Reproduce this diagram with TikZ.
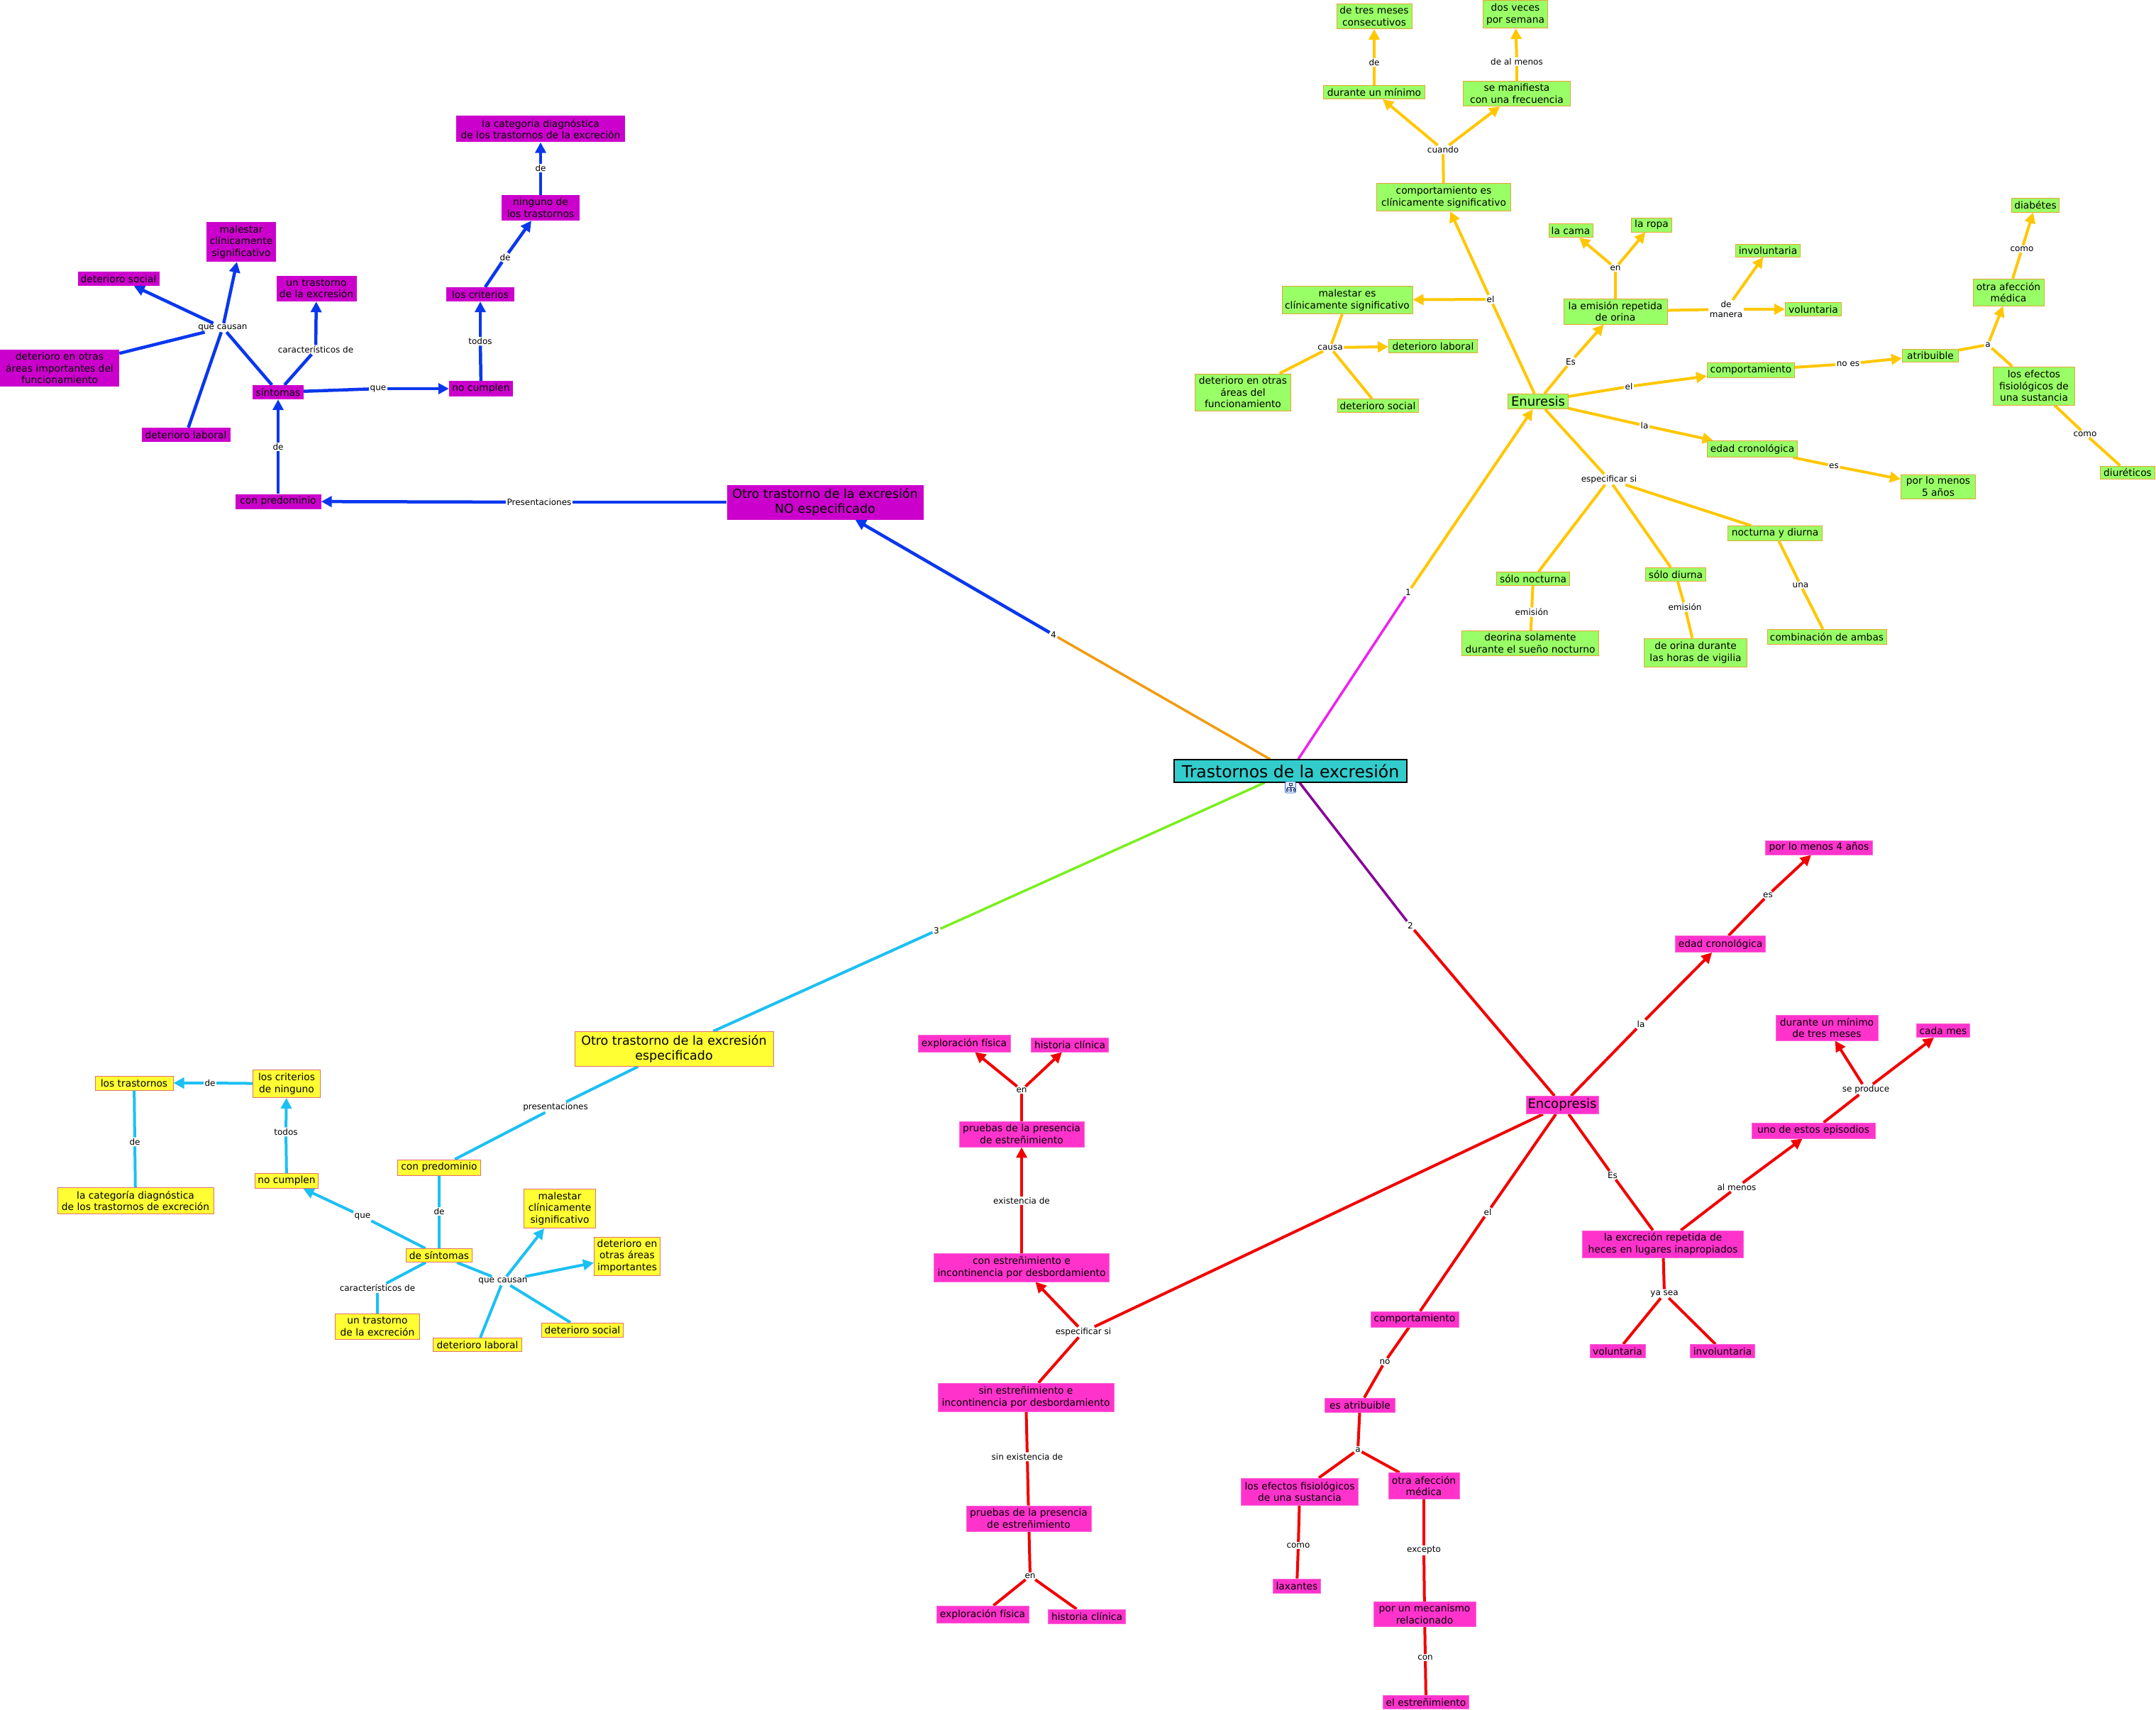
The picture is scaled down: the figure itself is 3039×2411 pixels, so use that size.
\documentclass[tikz,border=0pt]{standalone}
\usepackage{fontspec}
\setmainfont{DejaVu Sans}
\usetikzlibrary{arrows.meta}
\definecolor{teal1}{HTML}{33CCCC}
\definecolor{purp}{HTML}{CC00CC}
\definecolor{ylw}{HTML}{FFFF33}
\definecolor{ylwb}{HTML}{E07070}
\definecolor{grn}{HTML}{99FF66}
\definecolor{grnb}{HTML}{E6A532}
\definecolor{pnk}{HTML}{FF33CC}
\definecolor{gold}{HTML}{FFC700}
\definecolor{blu}{HTML}{0A37EE}
\definecolor{cyn}{HTML}{1CC0F2}
\definecolor{rd}{HTML}{F20000}
\definecolor{mag}{HTML}{EE22EE}
\definecolor{org}{HTML}{F29B11}
\definecolor{lim}{HTML}{7AEF1F}
\definecolor{prp}{HTML}{880099}
\pgfdeclarelayer{bg}
\pgfsetlayers{bg,main}
\newcommand\cnode[7]{\node[#1,minimum width=#5pt,minimum height=#6pt] (#2) at (#3,#4) {#7};}
\newcommand\lnode[4]{\node[lab] (#1) at (#2,#3) {#4};}
\tikzset{
  box/.style={rectangle, align=center, inner xsep=1.5pt, inner ysep=1pt, font=\fontsize{13.8}{16.5}\selectfont, text=black},
  gbox/.style={box, fill=grn, draw=grnb, line width=1pt},
  ybox/.style={box, fill=ylw, draw=ylwb, line width=1pt},
  pbox/.style={box, fill=purp},
  kbox/.style={box, fill=pnk, draw=pnk!75!white, line width=0.8pt},
  bigf/.style={font=\fontsize{17.5}{21}\selectfont},
  lab/.style={font=\fontsize{12}{13.5}\selectfont, inner sep=1.5pt, align=center, text=black},
  ln/.style={line width=4pt},
  gl/.style={ln, draw=gold},
  bl/.style={ln, draw=blu, line width=4.5pt},
  cl/.style={ln, draw=cyn},
  rl/.style={ln, draw=rd},
  ar/.style={-{Triangle[length=15pt,width=15pt]}}
}
\begin{document}
\begin{tikzpicture}[x=1pt,y=-1pt]
\path[use as bounding box] (0,0) rectangle (3039,2411);

% central
\node[box, fill=teal1, draw=black, line width=1.2pt, font=\fontsize{23.5}{26}\selectfont, minimum width=328pt, minimum height=32pt] (C) at (1819,1087) {Trastornos de la excresión};
\node[draw={rgb,255:red,60;green,110;blue,200}, fill={rgb,255:red,225;green,236;blue,250}, rounded corners=2pt, line width=0.8pt, minimum width=15pt, minimum height=16pt, inner sep=0pt] (icon) at (1819,1110) {};
\draw[line width=0.9pt, draw={rgb,255:red,30;green,50;blue,120}] (1817,1104) rectangle (1821,1107) (1819,1107) -- (1819,1110) (1814,1110) -- (1824,1110) (1814,1110) -- (1814,1112) (1824,1110) -- (1824,1112) (1819,1110) -- (1819,1112) (1813,1112) rectangle (1815,1115) (1818,1112) rectangle (1820,1115) (1823,1112) rectangle (1825,1115);

% ===== NO especificado branch (purple/blue)
\cnode{pbox}{bCat}{762}{182}{238}{37}{la categoría diagnóstica\\de los trastornos de la excreción}
\cnode{pbox}{bNin}{762}{293}{110}{36}{ninguno de\\los trastornos}
\cnode{pbox}{bCri}{677}{415}{96}{20}{los criterios}
\cnode{pbox}{bNoc}{678}{548}{90}{22}{no cumplen}
\cnode{pbox}{bSin}{392}{553}{72}{20}{síntomas}
\cnode{pbox}{bCon}{392}{707}{121}{21}{con predominio}
\cnode{pbox}{bUnt}{446}{407}{113}{36}{un trastorno\\de la excresión}
\cnode{pbox}{bMal}{340}{341}{98}{56}{malestar\\clínicamente\\significativo}
\cnode{pbox}{bDso}{167}{393}{115}{20}{deterioro social}
\cnode{pbox}{bDot}{84}{519}{168}{52}{deterioro en otras\\áreas importantes del\\funcionamiento}
\cnode{pbox}{bDla}{262}{613}{125}{20}{deterioro laboral}
\cnode{pbox,bigf}{bNOE}{1163}{708}{277}{49}{Otro trastorno de la excresión\\NO especificado}
\lnode{lb1}{762}{237}{de}
\lnode{lb2}{712}{363}{de}
\lnode{lb3}{677}{481}{todos}
\lnode{lb4}{533}{548}{que}
\lnode{lb5}{445}{493}{característicos de}
\lnode{lb6}{314}{462}{que causan}
\lnode{lb7}{392}{630}{de}
\lnode{lb8}{760}{708}{Presentaciones}
\lnode{l4}{1485}{895}{4}

% ===== especificado branch (yellow/cyan)
\cnode{ybox,bigf}{cOE}{950}{1479}{280}{49}{Otro trastorno de la excresión\\especificado}
\cnode{ybox}{cTra}{189}{1527}{110}{20}{los trastornos}
\cnode{ybox}{cCri}{404}{1528}{95}{39}{los criterios\\de ninguno}
\cnode{ybox}{cCat}{191}{1693}{220}{37}{la categoría diagnóstica\\de los trastornos de excreción}
\cnode{ybox}{cNoc}{404}{1665}{89}{21}{no cumplen}
\cnode{ybox}{cCon}{619}{1646}{117}{22}{con predominio}
\cnode{ybox}{cSin}{619}{1770}{93}{19}{de síntomas}
\cnode{ybox}{cMal}{789}{1704}{101}{55}{malestar\\clínicamente\\significativo}
\cnode{ybox}{cDot}{884}{1771}{93}{54}{deterioro en\\otras áreas\\importantes}
\cnode{ybox}{cUnt}{532}{1870}{119}{36}{un trastorno\\de la excreción}
\cnode{ybox}{cDla}{673}{1896}{125}{19}{deterioro laboral}
\cnode{ybox}{cDso}{821}{1875}{115}{20}{deterioro social}
\lnode{lc1}{296}{1527}{de}
\lnode{lc2}{190}{1610}{de}
\lnode{lc3}{403}{1596}{todos}
\lnode{lc4}{511}{1715}{que}
\lnode{lc5}{619}{1708}{de}
\lnode{lc6}{783}{1561}{presentaciones}
\lnode{lc7}{532}{1816}{característicos de}
\lnode{lc8}{709}{1806}{que causan}
\lnode{l3}{1320}{1312}{3}

% ===== Enuresis branch (green/gold)
\cnode{gbox}{gTres}{1937}{23}{106}{35}{de tres meses\\consecutivos}
\cnode{gbox}{gDos}{2136}{20}{91}{39}{dos veces\\por semana}
\cnode{gbox}{gDur}{1937}{130}{143}{19}{durante un mínimo}
\cnode{gbox}{gMan}{2138}{132}{151}{35}{se manifiesta\\con una frecuencia}
\cnode{gbox}{gCec}{2035}{278}{189}{39}{comportamiento es\\clínicamente significativo}
\cnode{gbox}{gCama}{2214}{325}{62}{19}{la cama}
\cnode{gbox}{gRopa}{2328}{317}{57}{20}{la ropa}
\cnode{gbox}{gInv}{2492}{353}{91}{18}{involuntaria}
\cnode{gbox}{gMal}{1899}{423}{184}{39}{malestar es\\clínicamente significativo}
\cnode{gbox}{gEmi}{2277}{439}{146}{36}{la emisión repetida\\de orina}
\cnode{gbox}{gDla}{2020}{488}{125}{19}{deterioro laboral}
\cnode{gbox}{gComp}{2468}{522}{123}{21}{comportamiento}
\cnode{gbox}{gDso}{1942}{572}{114}{19}{deterioro social}
\cnode{gbox,font=\fontsize{18}{21}\selectfont}{gEnu}{2168}{566}{85}{21}{Enuresis}
\cnode{gbox}{gVol}{2556}{436}{79}{19}{voluntaria}
\cnode{gbox}{gDot}{1752}{553}{135}{52}{deterioro en otras\\áreas del\\funcionamiento}
\cnode{gbox}{gEdad}{2470}{633}{127}{23}{edad cronológica}
\cnode{gbox}{gNyd}{2502}{752}{133}{21}{nocturna y diurna}
\cnode{gbox}{gSn}{2161}{816}{103}{19}{sólo nocturna}
\cnode{gbox}{gSd}{2362}{810}{85}{19}{sólo diurna}
\cnode{gbox}{gDeo}{2157}{907}{193}{35}{deorina solamente\\durante el sueño nocturno}
\cnode{gbox}{gDeo2}{2390}{920}{145}{40}{de orina durante\\las horas de vigilia}
\cnode{gbox}{gComb}{2575}{898}{168}{21}{combinación de ambas}
\cnode{gbox}{gDia}{2869}{289}{67}{20}{diabétes}
\cnode{gbox}{gOtra}{2831}{412}{100}{38}{otra afección\\médica}
\cnode{gbox}{gAtr}{2721}{501}{79}{18}{atribuible}
\cnode{gbox}{gEfe}{2867}{544}{115}{54}{los efectos\\fisiológicos de\\una sustancia}
\cnode{gbox}{gDiu}{2999}{666}{77}{18}{diuréticos}
\cnode{gbox}{gPor5}{2732}{686}{105}{34}{por lo menos\\5 años}
\lnode{ly1}{1937}{88}{de}
\lnode{ly2}{2138}{87}{de al menos}
\lnode{ly3}{2034}{211}{cuando}
\lnode{ly4}{2101}{422}{el}
\lnode{ly5}{2277}{378}{en}
\lnode{ly6}{2433}{436}{de\\manera}
\lnode{ly7}{1875}{490}{causa}
\lnode{ly8}{2214}{510}{Es}
\lnode{ly9}{2296}{545}{el}
\lnode{ly10}{2605}{513}{no es}
\lnode{ly11}{2318}{600}{la}
\lnode{ly12}{2585}{657}{es}
\lnode{ly13}{2268}{676}{especificar si}
\lnode{ly14}{2159}{863}{emisión}
\lnode{ly15}{2375}{856}{emisión}
\lnode{ly16}{2538}{825}{una}
\lnode{ly17}{2850}{351}{como}
\lnode{ly18}{2802}{486}{a}
\lnode{ly19}{2939}{612}{como}
\lnode{l1}{1985}{835}{1}

% ===== Encopresis branch (pink/red)
\cnode{kbox,font=\fontsize{18}{21}\selectfont}{rEnc}{2202}{1558}{102}{25}{Encopresis}
\cnode{kbox}{rPor4}{2564}{1195}{151}{20}{por lo menos 4 años}
\cnode{kbox}{rEdad}{2425}{1331}{127}{23}{edad cronológica}
\cnode{kbox}{rDur}{2575}{1449}{144}{36}{durante un mínimo\\de tres meses}
\cnode{kbox}{rCada}{2739}{1453}{75}{19}{cada mes}
\cnode{kbox}{rUno}{2556}{1594}{174}{22}{uno de estos episodios}
\cnode{kbox}{rExc}{2344}{1754}{227}{38}{la excreción repetida de\\heces en lugares inapropiados}
\cnode{kbox}{rVol}{2280}{1905}{78}{19}{voluntaria}
\cnode{kbox}{rInv}{2428}{1905}{91}{19}{involuntaria}
\cnode{kbox}{rExp1}{1359}{1471}{130}{24}{exploración física}
\cnode{kbox}{rHis1}{1508}{1473}{109}{20}{historia clínica}
\cnode{kbox}{rPru1}{1440}{1599}{176}{36}{pruebas de la presencia\\de estreñimiento}
\cnode{kbox}{rCon}{1440}{1787}{247}{40}{con estreñimiento e\\incontinencia por desbordamiento}
\cnode{kbox}{rSinE}{1446}{1970}{248}{40}{sin estreñimiento e\\incontinencia por desbordamiento}
\cnode{kbox}{rPru2}{1450}{2141}{176}{36}{pruebas de la presencia\\de estreñimiento}
\cnode{kbox}{rExp2}{1385}{2276}{130}{24}{exploración física}
\cnode{kbox}{rHis2}{1532}{2279}{109}{20}{historia clínica}
\cnode{kbox}{rComp}{1994}{1860}{124}{22}{comportamiento}
\cnode{kbox}{rAtr}{1917}{1981}{99}{20}{es atribuible}
\cnode{kbox}{rEfe}{1832}{2103}{165}{38}{los efectos fisiológicos\\de una sustancia}
\cnode{kbox}{rOtra}{2007}{2095}{100}{37}{otra afección\\médica}
\cnode{kbox}{rLax}{1828}{2236}{67}{20}{laxantes}
\cnode{kbox}{rMec}{2008}{2276}{144}{35}{por un mecanismo\\relacionado}
\cnode{kbox}{rEst}{2010}{2400}{121}{19}{el estreñimiento}
\lnode{lr1}{2492}{1262}{es}
\lnode{lr2}{2313}{1444}{la}
\lnode{lr3}{2630}{1536}{se produce}
\lnode{lr4}{2273}{1657}{Es}
\lnode{lr5}{2448}{1674}{al menos}
\lnode{lr6}{2346}{1824}{ya sea}
\lnode{lr7}{1440}{1537}{en}
\lnode{lr8}{1440}{1693}{existencia de}
\lnode{lr9}{1527}{1878}{especificar si}
\lnode{lr10}{1448}{2054}{sin existencia de}
\lnode{lr11}{1452}{2222}{en}
\lnode{lr12}{1952}{1920}{no}
\lnode{lr13}{1914}{2044}{a}
\lnode{lr14}{1830}{2179}{como}
\lnode{lr15}{2007}{2186}{excepto}
\lnode{lr16}{2009}{2337}{con}
\lnode{lr17}{2097}{1709}{el}
\lnode{l2}{1988}{1305}{2}

\begin{pgfonlayer}{bg}
\fill[white] (0,0) rectangle (3039,2411);
% central connectors
\draw[line width=3.5pt, draw=mag] (C) -- (l1);
\draw[gl,ar] (l1) -- (gEnu);
\draw[line width=3.5pt, draw=org] (C) -- (l4);
\draw[bl,ar] (l4) -- (bNOE);
\draw[line width=3.5pt, draw=lim] (C) -- (l3);
\draw[cl] (l3) -- (cOE);
\draw[line width=3.5pt, draw=prp] (C) -- (l2);
\draw[rl] (l2) -- (rEnc);

% blue
\draw[bl] (bSin) -- (lb4); \draw[bl,ar] (lb4) -- (bNoc);
\draw[bl] (bNoc) -- (lb3); \draw[bl,ar] (lb3) -- (bCri);
\draw[bl] (bCri) -- (lb2); \draw[bl,ar] (lb2) -- (bNin);
\draw[bl] (bNin) -- (lb1); \draw[bl,ar] (lb1) -- (bCat);
\draw[bl] (bSin) -- (lb5); \draw[bl,ar] (lb5) -- (bUnt);
\draw[bl] (bSin) -- (lb6);
\draw[bl,ar] (lb6) -- (bMal);
\draw[bl,ar] (lb6) -- (bDso);
\draw[bl] (lb6) -- (bDot);
\draw[bl] (lb6) -- (bDla);
\draw[bl] (bCon) -- (lb7); \draw[bl,ar] (lb7) -- (bSin);
\draw[bl] (bNOE) -- (lb8); \draw[bl,ar] (lb8) -- (bCon);

% cyan
\draw[cl] (cOE) -- (lc6); \draw[cl] (lc6) -- (cCon);
\draw[cl] (cCon) -- (lc5); \draw[cl] (lc5) -- (cSin);
\draw[cl] (cSin) -- (lc4); \draw[cl,ar] (lc4) -- (cNoc);
\draw[cl] (cNoc) -- (lc3); \draw[cl,ar] (lc3) -- (cCri);
\draw[cl] (cCri) -- (lc1); \draw[cl,ar] (lc1) -- (cTra);
\draw[cl] (cTra) -- (lc2); \draw[cl] (lc2) -- (cCat);
\draw[cl] (cSin) -- (lc7); \draw[cl] (lc7) -- (cUnt);
\draw[cl] (cSin) -- (lc8);
\draw[cl,ar] (lc8) -- (cMal);
\draw[cl,ar] (lc8) -- (cDot);
\draw[cl] (lc8) -- (cDla);
\draw[cl] (lc8) -- (cDso);

% gold
\draw[gl] (gEnu) -- (ly4);
\draw[gl,ar] (ly4) -- (gCec);
\draw[gl,ar] (ly4) -- (gMal);
\draw[gl] (gCec) -- (ly3);
\draw[gl,ar] (ly3) -- (gDur);
\draw[gl,ar] (ly3) -- (gMan);
\draw[gl] (gDur) -- (ly1); \draw[gl,ar] (ly1) -- (gTres);
\draw[gl] (gMan) -- (ly2); \draw[gl,ar] (ly2) -- (gDos);
\draw[gl] (gMal) -- (ly7);
\draw[gl,ar] (ly7) -- (gDla);
\draw[gl] (ly7) -- (gDot);
\draw[gl] (ly7) -- (gDso);
\draw[gl] (gEnu) -- (ly8); \draw[gl,ar] (ly8) -- (gEmi);
\draw[gl] (gEmi) -- (ly5);
\draw[gl,ar] (ly5) -- (gCama);
\draw[gl,ar] (ly5) -- (gRopa);
\draw[gl] (gEmi) -- (ly6);
\draw[gl,ar] (ly6) -- (gInv);
\draw[gl,ar] (ly6) -- (gVol);
\draw[gl] (gEnu) -- (ly9); \draw[gl,ar] (ly9) -- (gComp);
\draw[gl] (gComp) -- (ly10); \draw[gl,ar] (ly10) -- (gAtr);
\draw[gl] (gAtr) -- (ly18);
\draw[gl,ar] (ly18) -- (gOtra);
\draw[gl] (ly18) -- (gEfe);
\draw[gl] (gOtra) -- (ly17); \draw[gl,ar] (ly17) -- (gDia);
\draw[gl] (gEfe) -- (ly19); \draw[gl] (ly19) -- (gDiu);
\draw[gl] (gEnu) -- (ly11); \draw[gl,ar] (ly11) -- (gEdad);
\draw[gl] (gEdad) -- (ly12); \draw[gl,ar] (ly12) -- (gPor5);
\draw[gl] (gEnu) -- (ly13);
\draw[gl] (ly13) -- (gSn);
\draw[gl] (ly13) -- (gSd);
\draw[gl] (ly13) -- (gNyd);
\draw[gl] (gSn) -- (ly14); \draw[gl] (ly14) -- (gDeo);
\draw[gl] (gSd) -- (ly15); \draw[gl] (ly15) -- (gDeo2);
\draw[gl] (gNyd) -- (ly16); \draw[gl] (ly16) -- (gComb);

% red
\draw[rl] (rEnc) -- (lr2); \draw[rl,ar] (lr2) -- (rEdad);
\draw[rl] (rEdad) -- (lr1); \draw[rl,ar] (lr1) -- (rPor4);
\draw[rl] (rEnc) -- (lr4); \draw[rl] (lr4) -- (rExc);
\draw[rl] (rExc) -- (lr5); \draw[rl,ar] (lr5) -- (rUno);
\draw[rl] (rUno) -- (lr3);
\draw[rl,ar] (lr3) -- (rDur);
\draw[rl,ar] (lr3) -- (rCada);
\draw[rl] (rExc) -- (lr6);
\draw[rl] (lr6) -- (rVol);
\draw[rl] (lr6) -- (rInv);
\draw[rl] (rEnc) -- (lr17); \draw[rl] (lr17) -- (rComp);
\draw[rl] (rComp) -- (lr12); \draw[rl] (lr12) -- (rAtr);
\draw[rl] (rAtr) -- (lr13);
\draw[rl] (lr13) -- (rEfe);
\draw[rl] (lr13) -- (rOtra);
\draw[rl] (rEfe) -- (lr14); \draw[rl] (lr14) -- (rLax);
\draw[rl] (rOtra) -- (lr15); \draw[rl] (lr15) -- (rMec);
\draw[rl] (rMec) -- (lr16); \draw[rl] (lr16) -- (rEst);
\draw[rl] (rEnc) -- (lr9);
\draw[rl,ar] (lr9) -- (rCon);
\draw[rl] (lr9) -- (rSinE);
\draw[rl] (rCon) -- (lr8); \draw[rl,ar] (lr8) -- (rPru1);
\draw[rl] (rPru1) -- (lr7);
\draw[rl,ar] (lr7) -- (rExp1);
\draw[rl,ar] (lr7) -- (rHis1);
\draw[rl] (rSinE) -- (lr10); \draw[rl] (lr10) -- (rPru2);
\draw[rl] (rPru2) -- (lr11);
\draw[rl] (lr11) -- (rExp2);
\draw[rl] (lr11) -- (rHis2);
\end{pgfonlayer}
\end{tikzpicture}
\end{document}
